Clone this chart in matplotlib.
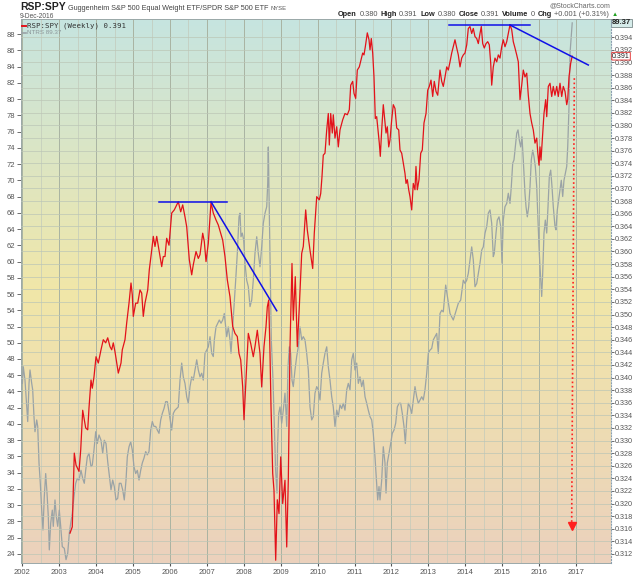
import numpy as np
import matplotlib
matplotlib.use("Agg")
import matplotlib.pyplot as plt
from matplotlib.colors import LinearSegmentedColormap

plt.rcParams['font.family'] = ['Liberation Sans', 'DejaVu Sans']

# =============================
# Data
# =============================
# RSP:SPY weekly ratio (right axis)
rsp_years = [
    2003.290, 2003.352, 2003.406, 2003.453, 2003.534, 2003.580, 2003.634, 2003.715, 2003.770, 2003.805,
    2003.859, 2003.894, 2003.940, 2003.995, 2004.057, 2004.130, 2004.192, 2004.257, 2004.312, 2004.374,
    2004.420, 2004.463, 2004.509, 2004.599, 2004.672, 2004.707, 2004.780, 2004.827, 2004.889, 2004.943,
    2004.978, 2005.005, 2005.070, 2005.125, 2005.187, 2005.233, 2005.276, 2005.322, 2005.396, 2005.439,
    2005.504, 2005.547, 2005.593, 2005.640, 2005.702, 2005.775, 2005.818, 2005.864, 2005.910, 2005.973,
    2006.046, 2006.116, 2006.225, 2006.290, 2006.344, 2006.406, 2006.453, 2006.523, 2006.588, 2006.631,
    2006.705, 2006.767, 2006.813, 2006.886, 2006.929, 2006.976, 2007.038, 2007.111, 2007.173, 2007.247,
    2007.309, 2007.374, 2007.428, 2007.490, 2007.553, 2007.626, 2007.699, 2007.761, 2007.824, 2007.870,
    2007.916, 2007.970, 2008.005, 2008.060, 2008.122, 2008.187, 2008.257, 2008.303, 2008.366, 2008.439,
    2008.485, 2008.547, 2008.602, 2008.637, 2008.675, 2008.710, 2008.737, 2008.783, 2008.818, 2008.864,
    2008.908, 2008.954, 2009.000, 2009.054, 2009.116, 2009.163, 2009.206, 2009.252, 2009.306, 2009.341,
    2009.395, 2009.450, 2009.504, 2009.569, 2009.612, 2009.677, 2009.721, 2009.794, 2009.867, 2009.910,
    2009.976, 2010.046, 2010.084, 2010.119, 2010.154, 2010.200, 2010.247, 2010.290, 2010.317, 2010.355,
    2010.398, 2010.425, 2010.471, 2010.518, 2010.561, 2010.607, 2010.680, 2010.742, 2010.805, 2010.859,
    2010.897, 2010.951, 2010.986, 2011.032, 2011.076, 2011.130, 2011.176, 2011.222, 2011.257, 2011.293,
    2011.347, 2011.393, 2011.420, 2011.455, 2011.493, 2011.528, 2011.564, 2011.601, 2011.636, 2011.672,
    2011.699, 2011.737, 2011.780, 2011.818, 2011.854, 2011.889, 2011.927, 2011.962, 2012.008, 2012.051,
    2012.097, 2012.144, 2012.198, 2012.233, 2012.279, 2012.322, 2012.368, 2012.396, 2012.431, 2012.469,
    2012.504, 2012.550, 2012.593, 2012.639, 2012.666, 2012.702, 2012.748, 2012.794, 2012.837, 2012.883,
    2012.938, 2012.984, 2013.027, 2013.073, 2013.119, 2013.162, 2013.209, 2013.255, 2013.317, 2013.363,
    2013.406, 2013.453, 2013.499, 2013.542, 2013.588, 2013.634, 2013.677, 2013.723, 2013.770, 2013.813,
    2013.859, 2013.905, 2013.948, 2013.994, 2014.041, 2014.084, 2014.130, 2014.176, 2014.219, 2014.265,
    2014.312, 2014.355, 2014.401, 2014.436, 2014.474, 2014.517, 2014.564, 2014.610, 2014.653, 2014.691,
    2014.718, 2014.761, 2014.807, 2014.854, 2014.897, 2014.943, 2014.989, 2015.032, 2015.078, 2015.125,
    2015.168, 2015.214, 2015.260, 2015.303, 2015.349, 2015.396, 2015.439, 2015.485, 2015.531, 2015.574,
    2015.620, 2015.667, 2015.710, 2015.756, 2015.802, 2015.845, 2015.891, 2015.938, 2015.965, 2016.000,
    2016.027, 2016.054, 2016.089, 2016.135, 2016.181, 2016.209, 2016.252, 2016.298, 2016.344, 2016.387,
    2016.433, 2016.480, 2016.523, 2016.569, 2016.615, 2016.658, 2016.705, 2016.751, 2016.778, 2016.813,
    2016.859, 2016.900,
]
rsp_vals = [
    0.3153, 0.3163, 0.3280, 0.3261, 0.3251, 0.3285, 0.3348, 0.3320, 0.3317, 0.3352,
    0.3396, 0.3383, 0.3401, 0.3433, 0.3423, 0.3444, 0.3460, 0.3455, 0.3463, 0.3449,
    0.3444, 0.3455, 0.3441, 0.3407, 0.3423, 0.3444, 0.3460, 0.3487, 0.3518, 0.3550,
    0.3531, 0.3497, 0.3518, 0.3518, 0.3539, 0.3534, 0.3497, 0.3518, 0.3539, 0.3571,
    0.3602, 0.3624, 0.3608, 0.3624, 0.3602, 0.3576, 0.3592, 0.3592, 0.3621, 0.3610,
    0.3661, 0.3666, 0.3679, 0.3663, 0.3674, 0.3655, 0.3639, 0.3587, 0.3563, 0.3579,
    0.3600, 0.3589, 0.3595, 0.3629, 0.3616, 0.3584, 0.3613, 0.3678, 0.3661, 0.3650,
    0.3642, 0.3629, 0.3618, 0.3592, 0.3555, 0.3528, 0.3481, 0.3470, 0.3465, 0.3438,
    0.3428, 0.3385, 0.3333, 0.3396, 0.3470, 0.3454, 0.3433, 0.3449, 0.3475, 0.3438,
    0.3385, 0.3449, 0.3481, 0.3512, 0.3523, 0.3438, 0.3354, 0.3248, 0.3221, 0.3110,
    0.3206, 0.3184, 0.3274, 0.3200, 0.3237, 0.3131, 0.3237, 0.3449, 0.3581, 0.3491,
    0.3560, 0.3449, 0.3512, 0.3597, 0.3608, 0.3666, 0.3634, 0.3602, 0.3573, 0.3629,
    0.3687, 0.3682, 0.3692, 0.3719, 0.3753, 0.3756, 0.3793, 0.3819, 0.3769, 0.3819,
    0.3788, 0.3817, 0.3780, 0.3798, 0.3766, 0.3793, 0.3809, 0.3819, 0.3817, 0.3825,
    0.3864, 0.3870, 0.3851, 0.3843, 0.3888, 0.3893, 0.3904, 0.3915, 0.3912, 0.3925,
    0.3947, 0.3936, 0.3920, 0.3938, 0.3915, 0.3877, 0.3811, 0.3814, 0.3793, 0.3772,
    0.3751, 0.3793, 0.3833, 0.3809, 0.3788, 0.3798, 0.3766, 0.3777, 0.3809, 0.3833,
    0.3827, 0.3796, 0.3793, 0.3761, 0.3756, 0.3740, 0.3724, 0.3708, 0.3714, 0.3698,
    0.3687, 0.3666, 0.3708, 0.3698, 0.3735, 0.3698, 0.3714, 0.3756, 0.3761, 0.3804,
    0.3819, 0.3856, 0.3862, 0.3872, 0.3846, 0.3870, 0.3854, 0.3848, 0.3888, 0.3870,
    0.3862, 0.3877, 0.3893, 0.3888, 0.3901, 0.3915, 0.3925, 0.3936, 0.3923, 0.3912,
    0.3893, 0.3907, 0.3912, 0.3915, 0.3928, 0.3954, 0.3957, 0.3946, 0.3954, 0.3941,
    0.3938, 0.3930, 0.3946, 0.3957, 0.3930, 0.3923, 0.3930, 0.3933, 0.3928, 0.3899,
    0.3864, 0.3893, 0.3907, 0.3901, 0.3912, 0.3907, 0.3925, 0.3936, 0.3925, 0.3933,
    0.3946, 0.3960, 0.3952, 0.3933, 0.3923, 0.3912, 0.3901, 0.3841, 0.3864, 0.3888,
    0.3877, 0.3883, 0.3848, 0.3819, 0.3804, 0.3793, 0.3772, 0.3780, 0.3758, 0.3737,
    0.3766, 0.3745, 0.3777, 0.3819, 0.3841, 0.3814, 0.3862, 0.3867, 0.3846, 0.3862,
    0.3848, 0.3862, 0.3846, 0.3867, 0.3846, 0.3862, 0.3854, 0.3833, 0.3841, 0.3877,
    0.3899, 0.3910,
]

# NTRS weekly close (left axis)
ntrs_years = [
    2002.000, 2002.024, 2002.070, 2002.117, 2002.144, 2002.179, 2002.206, 2002.252, 2002.279, 2002.314,
    2002.341, 2002.388, 2002.415, 2002.450, 2002.485, 2002.523, 2002.558, 2002.593, 2002.631, 2002.667,
    2002.702, 2002.729, 2002.767, 2002.810, 2002.837, 2002.883, 2002.919, 2002.957, 2003.000, 2003.038,
    2003.081, 2003.135, 2003.182, 2003.228, 2003.271, 2003.309, 2003.352, 2003.398, 2003.444, 2003.488,
    2003.534, 2003.588, 2003.634, 2003.677, 2003.715, 2003.759, 2003.805, 2003.859, 2003.894, 2003.940,
    2003.986, 2004.030, 2004.076, 2004.130, 2004.176, 2004.219, 2004.266, 2004.312, 2004.355, 2004.401,
    2004.447, 2004.490, 2004.537, 2004.583, 2004.626, 2004.672, 2004.718, 2004.761, 2004.808, 2004.843,
    2004.889, 2004.935, 2004.978, 2005.024, 2005.070, 2005.114, 2005.160, 2005.206, 2005.249, 2005.295,
    2005.341, 2005.385, 2005.431, 2005.477, 2005.520, 2005.566, 2005.612, 2005.656, 2005.702, 2005.748,
    2005.791, 2005.837, 2005.883, 2005.927, 2005.973, 2006.019, 2006.046, 2006.089, 2006.135, 2006.225,
    2006.271, 2006.317, 2006.360, 2006.406, 2006.453, 2006.496, 2006.542, 2006.588, 2006.631, 2006.677,
    2006.724, 2006.767, 2006.813, 2006.859, 2006.902, 2006.948, 2006.995, 2007.038, 2007.084, 2007.130,
    2007.173, 2007.201, 2007.247, 2007.293, 2007.336, 2007.382, 2007.428, 2007.471, 2007.499, 2007.537,
    2007.580, 2007.626, 2007.653, 2007.688, 2007.734, 2007.780, 2007.824, 2007.870, 2007.897, 2007.924,
    2007.959, 2007.997, 2008.032, 2008.078, 2008.122, 2008.168, 2008.214, 2008.257, 2008.303, 2008.350,
    2008.393, 2008.439, 2008.485, 2008.528, 2008.575, 2008.621, 2008.648, 2008.664, 2008.691, 2008.724,
    2008.745, 2008.791, 2008.826, 2008.862, 2008.900, 2008.914, 2008.946, 2008.981, 2009.027, 2009.070,
    2009.116, 2009.163, 2009.198, 2009.233, 2009.271, 2009.306, 2009.341, 2009.387, 2009.433, 2009.477,
    2009.523, 2009.569, 2009.612, 2009.658, 2009.704, 2009.748, 2009.794, 2009.840, 2009.883, 2009.929,
    2009.976, 2010.019, 2010.065, 2010.111, 2010.154, 2010.200, 2010.247, 2010.290, 2010.336, 2010.382,
    2010.425, 2010.471, 2010.518, 2010.561, 2010.607, 2010.653, 2010.696, 2010.742, 2010.789, 2010.832,
    2010.878, 2010.924, 2010.967, 2011.013, 2011.060, 2011.103, 2011.149, 2011.195, 2011.238, 2011.285,
    2011.331, 2011.374, 2011.420, 2011.466, 2011.509, 2011.555, 2011.601, 2011.628, 2011.664, 2011.691,
    2011.737, 2011.780, 2011.826, 2011.854, 2011.889, 2011.935, 2011.981, 2012.024, 2012.070, 2012.116,
    2012.160, 2012.206, 2012.252, 2012.295, 2012.341, 2012.377, 2012.415, 2012.458, 2012.504, 2012.550,
    2012.593, 2012.639, 2012.686, 2012.729, 2012.775, 2012.821, 2012.864, 2012.910, 2012.957, 2013.000,
    2013.046, 2013.092, 2013.135, 2013.182, 2013.228, 2013.271, 2013.317, 2013.363, 2013.406, 2013.471,
    2013.588, 2013.677, 2013.813, 2013.878, 2013.948, 2013.994, 2014.041, 2014.084, 2014.130, 2014.176,
    2014.219, 2014.265, 2014.312, 2014.355, 2014.401, 2014.447, 2014.490, 2014.537, 2014.583, 2014.626,
    2014.672, 2014.718, 2014.761, 2014.788, 2014.835, 2014.870, 2014.916, 2014.962, 2014.997, 2015.032,
    2015.078, 2015.125, 2015.168, 2015.214, 2015.249, 2015.287, 2015.322, 2015.358, 2015.396, 2015.431,
    2015.466, 2015.504, 2015.539, 2015.574, 2015.620, 2015.648, 2015.683, 2015.721, 2015.756, 2015.791,
    2015.829, 2015.864, 2015.900, 2015.938, 2015.973, 2016.000, 2016.027, 2016.073, 2016.100, 2016.135,
    2016.171, 2016.209, 2016.244, 2016.279, 2016.317, 2016.352, 2016.387, 2016.433, 2016.460, 2016.496,
    2016.534, 2016.569, 2016.604, 2016.642, 2016.677, 2016.713, 2016.751, 2016.778, 2016.813, 2016.840,
    2016.900,
]
ntrs_vals = [
    45.0, 47.05, 45.4, 42.1, 40.3, 45.0, 46.65, 45.0, 44.2, 40.9,
    39.05, 40.5, 39.7, 35.2, 32.7, 29.4, 26.95, 31.05, 33.9, 31.5,
    28.6, 24.5, 27.8, 29.4, 27.4, 30.65, 28.6, 27.4, 29.4, 27.4,
    24.9, 24.7, 23.3, 24.1, 26.55, 27.8, 29.0, 31.05, 32.7, 33.3,
    33.1, 34.3, 33.3, 32.7, 34.3, 35.95, 36.4, 34.75, 34.95, 36.8,
    39.05, 37.6, 38.65, 38.0, 36.4, 38.0, 37.6, 35.35, 33.7, 31.9,
    33.1, 32.3, 30.65, 30.85, 32.7, 32.7, 31.9, 30.65, 33.1, 35.95,
    37.2, 37.8, 36.8, 34.75, 33.9, 34.3, 33.1, 34.3, 35.2, 35.8,
    36.6, 36.2, 36.6, 39.25, 40.3, 39.7, 39.7, 39.25, 38.85, 40.5,
    41.3, 41.9, 42.75, 42.75, 41.5, 40.1, 39.25, 41.3, 41.7, 42.1,
    45.4, 47.5, 45.8, 45.0, 43.35, 42.55, 44.6, 45.8, 45.4, 46.65,
    47.9, 46.65, 45.8, 46.25, 45.4, 48.7, 49.1, 49.5, 50.75, 48.7,
    48.3, 50.35, 51.95, 52.4, 52.8, 52.4, 52.8, 53.6, 52.4, 50.75,
    51.95, 50.35, 48.7, 51.15, 54.45, 57.7, 61.0, 65.5, 65.95, 63.05,
    63.5, 62.65, 59.8, 57.7, 56.9, 54.45, 55.25, 57.7, 61.0, 63.05,
    61.0, 59.35, 61.8, 64.7, 65.95, 66.75, 69.6, 74.1, 65.95, 55.25,
    50.35, 45.4, 40.1, 34.3, 31.5, 37.2, 41.3, 42.1, 40.1, 41.7,
    43.8, 39.7, 47.05, 49.5, 48.7, 45.4, 44.6, 46.65, 48.3, 49.5,
    51.95, 50.35, 50.75, 50.35, 48.7, 46.65, 42.1, 40.5, 40.9, 43.8,
    44.6, 44.2, 42.95, 46.25, 47.5, 48.7, 49.5, 47.05, 45.4, 43.35,
    42.1, 39.7, 41.7, 40.9, 42.35, 41.9, 42.55, 41.7, 44.2, 45.0,
    44.2, 47.9, 48.7, 46.65, 47.5, 45.0, 45.8, 44.6, 45.4, 43.35,
    42.55, 41.7, 40.9, 40.5, 38.85, 35.95, 32.7, 30.65, 32.3, 30.65,
    33.1, 37.2, 35.2, 31.5, 35.2, 36.4, 37.6, 38.85, 39.25, 40.1,
    42.1, 42.55, 42.55, 41.3, 39.7, 37.6, 40.5, 42.55, 42.1, 41.3,
    42.95, 44.6, 43.35, 42.55, 42.95, 43.35, 42.95, 44.2, 46.25, 48.7,
    49.1, 49.3, 50.35, 50.75, 51.15, 48.7, 53.6, 54.0, 53.8, 57.1,
    53.6, 52.8, 54.85, 55.25, 57.7, 57.3, 57.7, 58.55, 60.2, 61.8,
    60.2, 56.9, 57.3, 58.55, 59.8, 61.4, 61.8, 63.5, 64.3, 65.95,
    66.35, 64.7, 60.6, 61.0, 63.5, 65.1, 65.5, 64.3, 59.8, 65.1,
    66.75, 67.15, 68.4, 67.15, 69.2, 72.1, 72.5, 74.1, 75.8, 76.2,
    74.95, 74.1, 75.35, 72.5, 68.4, 66.75, 65.5, 66.75, 69.2, 72.5,
    73.7, 72.9, 71.7, 69.2, 65.1, 61.8, 59.35, 55.7, 58.55, 63.5,
    65.1, 63.5, 66.75, 70.45, 71.25, 69.2, 66.75, 64.3, 63.9, 66.35,
    67.6, 68.8, 70.0, 68.0, 70.0, 70.85, 71.7, 74.1, 79.05, 85.6,
    89.37,
]

year_ticks = list(range(2002, 2018))
left_ticks = list(range(24, 89, 2))
right_ticks = [round(0.312 + 0.002 * i, 3) for i in range(42)]

# annotation lines drawn by the author (year, ratio)
blue_lines = [
    ([2005.702, 2007.537], [0.3679, 0.3679]),
    ([2007.111, 2008.892], [0.3679, 0.3506]),
    ([2013.569, 2015.756], [0.39595, 0.39595]),
    ([2015.214, 2017.336], [0.39595, 0.3896]),
]
arrow_x = [2016.957, 2016.885]
arrow_y = [0.3875, 0.3165]

# =============================
# Figure
# =============================
W, H = 640, 576
fig = plt.figure(figsize=(W / 100, H / 100), dpi=100)
fig.patch.set_facecolor('white')
ax = fig.add_axes([21 / W, 1 - 563 / H, 590 / W, 544 / H])
ax2 = ax.twinx()

bg = LinearSegmentedColormap.from_list(
    'bg', [(0, '#c6e4e0'), (0.5, '#f1e7a8'), (1, '#ebd1bd')])
ax.imshow(np.linspace(0, 1, 256)[:, None], aspect='auto', cmap=bg,
          extent=[0, 1, 0, 1], transform=ax.transAxes, zorder=0)

ax.set_xlim(2001.962, 2017.951)
ax.set_ylim(22.89, 89.85)
ax2.set_ylim(0.31056, 0.39690)

# grid
for yr in year_ticks:
    ax.axvline(yr, color='#a9b3a2', lw=0.7, zorder=1)
    ax.axvline(yr + 0.5, color='#c2cabb', lw=0.5, zorder=1)
for v in right_ticks:
    ax2.axhline(v, color='#bcc6b6', lw=0.5, zorder=1)

ax.plot(ntrs_years, ntrs_vals, color='#9aa3a6', lw=0.9, zorder=3)
ax2.plot(rsp_years, rsp_vals, color='#e3121a', lw=0.9, zorder=4)

for xs, ys in blue_lines:
    ax2.plot(xs, ys, color='#1010e8', lw=1.1, zorder=5)
ax2.plot(arrow_x, arrow_y, color='#ff2020', lw=1.2, ls=(0, (1, 1.6)), zorder=5)
ax2.plot(arrow_x[1], arrow_y[1], marker='v', color='#ff2020', ms=6, zorder=5)

# axes styling
ax.set_xticks(year_ticks)
ax.set_xticklabels([str(y) for y in year_ticks])
ax.set_yticks(left_ticks)
ax2.set_yticks(right_ticks)
ax2.set_yticklabels(['%.3f' % v for v in right_ticks])
ax.tick_params(axis='x', labelsize=5.5, colors='#555555', length=2, pad=2)
ax.tick_params(axis='y', labelsize=5.5, colors='#555555', length=3, pad=1, width=0.6)
ax2.tick_params(axis='y', labelsize=5.2, colors='#555555', length=2, pad=1, width=0.6)
for sp in ['left', 'top', 'bottom']:
    ax.spines[sp].set_color('#9aa8a8')
    ax.spines[sp].set_linewidth(0.7)
for sp in ['left', 'top', 'bottom']:
    ax2.spines[sp].set_visible(False)
ax.spines['right'].set_visible(False)
ax2.spines['right'].set_color('#8aa0b0')
ax2.spines['right'].set_linestyle(':')
ax2.spines['right'].set_linewidth(0.8)

# value boxes on the right axis (the 0.391 box covers the 0.390 label, as on the original)
ax.text(1.002, 89.37, '89.37', transform=ax.get_yaxis_transform(), ha='left', va='center',
        fontsize=5.5, color='#222222', fontweight='bold', zorder=10, clip_on=False,
        bbox=dict(boxstyle='square,pad=0.1', fc='#d6ecea', ec='#7a8a8a', lw=0.6))
ax2.text(1.002, 0.391, '0.391', transform=ax2.get_yaxis_transform(), ha='left', va='center',
         fontsize=5.0, color='#222222', zorder=10, clip_on=False,
         bbox=dict(boxstyle='round,pad=0.05', fc='#ffffff', ec='#e02020', lw=0.6))

# legend inside the plot
ax.plot([0.002, 0.008], [0.988, 0.988], transform=ax.transAxes, color='#e3121a', lw=1.4, zorder=6)
ax.text(0.011, 0.988, 'RSP:SPY (Weekly) 0.391', transform=ax.transAxes, va='center',
        fontsize=5.3, family='DejaVu Sans Mono', color='#333333', zorder=6)
ax.plot([0.002, 0.008], [0.975, 0.975], transform=ax.transAxes, color='#9aa3a6', lw=1.2, zorder=6)
ax.text(0.011, 0.975, 'NTRS 89.37', transform=ax.transAxes, va='center',
        fontsize=4.5, color='#8a9498', zorder=6)

# header texts
renderer = fig.canvas.get_renderer()


def write_seq(x_px, y_px, parts, gap=2.0):
    x = x_px
    for txt, kw in parts:
        t = fig.text(x / W, 1 - y_px / H, txt, ha='left', va='baseline', **kw)
        x += t.get_window_extent(renderer).width + gap


write_seq(20, 10.5, [
    ('RSP:SPY', dict(fontsize=7.5, fontweight='bold', color='#222222')),
    ('Guggenheim S&P 500 Equal Weight ETF/SPDR S&P 500 ETF', dict(fontsize=5.2, color='#444444')),
    ('NYSE', dict(fontsize=4.2, color='#555555')),
])
fig.text(20 / W, 1 - 17.5 / H, '9-Dec-2016', fontsize=4.8, color='#555555', va='baseline')
fig.text(610 / W, 1 - 7.5 / H, '@StockCharts.com', fontsize=5, color='#666666',
         ha='right', va='baseline')

bold = dict(fontsize=5.3, fontweight='bold', color='#222222')
norm = dict(fontsize=5.3, color='#555555')
write_seq(338, 16, [
    ('Open', bold), ('0.380', norm), ('High', bold), ('0.391', norm),
    ('Low', bold), ('0.380', norm), ('Close', bold), ('0.391', norm),
    ('Volume', bold), ('0', norm), ('Chg', bold), ('+0.001 (+0.31%)', norm),
    ('\u25b2', dict(fontsize=4.5, color='#20a020')),
], gap=2.5)

fig.savefig('out.png', dpi=100)
